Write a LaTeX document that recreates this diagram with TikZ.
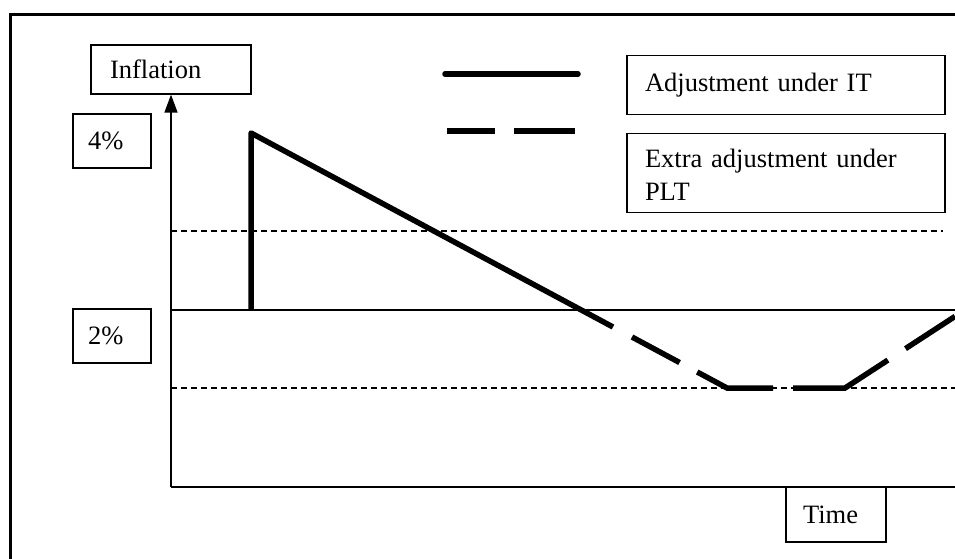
\documentclass[tikz,border=0pt]{standalone}
\usepackage{fontspec}
\setmainfont{Liberation Serif}
\usetikzlibrary{arrows.meta}
\begin{document}
\begin{tikzpicture}[x=1pt,y=-1pt,
  txtfont/.style={font=\fontsize{26.5}{33}\selectfont},
  lbl/.style={draw, line width=1.2pt, inner ysep=0pt, align=left, anchor=center, txtfont},
  boxonly/.style={draw, line width=1.2pt, inner sep=0pt, anchor=center},
  axisline/.style={line width=1.5pt},
  refline/.style={line width=1.5pt, dash pattern=on 6pt off 4pt},
  pathline/.style={line width=5.5pt}
]
\useasboundingbox (0,0) rectangle (955,558);
% outer frame (only left and top edges visible)
\coordinate (fbl) at (10,600);
\coordinate (ftl) at (10,14);
\coordinate (ftr) at (960,14);
\draw[line width=3pt] (fbl) -- (ftl) -- (ftr);

% label boxes
\node[lbl, minimum width=160pt, minimum height=49pt, text width=122pt, inner xsep=19pt] (infl) at (171,69.5) {Inflation};
\node[lbl, minimum width=78pt, minimum height=54pt, text width=48pt, inner xsep=15pt] (four) at (112,141) {4\%};
\node[lbl, minimum width=78pt, minimum height=54pt, text width=48pt, inner xsep=15pt] (two) at (112,336) {2\%};
\node[lbl, minimum width=318pt, minimum height=59pt, text width=282pt, inner xsep=18pt] (legit) at (786,85) {Adjustment under IT};
\node[boxonly, minimum width=318pt, minimum height=79pt] (pltbox) at (786,173) {};
\node[txtfont, align=left, inner sep=0pt, text width=282pt, anchor=center] (plttext) at ([yshift=-2pt]pltbox.center) {Extra adjustment under\\PLT};
\node[lbl, minimum width=100pt, minimum height=55pt, text width=66pt, inner xsep=17pt] (time) at (836,514.5) {Time};

% axes
\coordinate (O) at (171,487);
\coordinate (xend) at (955,487);
\draw[axisline, -{Triangle[length=18pt,width=13pt]}] (O) -- (infl.south);
\draw[axisline] (O) -- (xend);

% reference lines
\coordinate (t0) at (171,310);  \coordinate (t1) at (955,310);
\coordinate (u0) at (171,231);  \coordinate (u1) at (943,231);
\coordinate (l0) at (171,388);  \coordinate (l1) at (955,388);
\draw[line width=1.3pt] (t0) -- (t1);
\draw[refline] (u0) -- (u1);
\draw[refline] (l0) -- (l1);

% adjustment path
\coordinate (A) at (251,310);
\coordinate (B) at (251,133);
\coordinate (S1) at (613,327);
\coordinate (S2) at (632,337);
\coordinate (C) at (727,388);
\coordinate (D) at (845,388);
\coordinate (E) at (955,316.4);
\draw[pathline, line join=round] (A) -- (B) -- (S1);
\draw[pathline, dash pattern=on 54pt off 20pt on 80pt off 20pt on 103pt off 21pt on 100pt off 1pt] (S2) -- (C) -- (D) -- (E);

% legend lines
\coordinate (ls0) at (445,74);  \coordinate (ls1) at (578,74);
\coordinate (ld0) at (447,131); \coordinate (ld1) at (575,131);
\draw[pathline, line cap=round] (ls0) -- (ls1);
\draw[pathline, dash pattern=on 48pt off 19pt on 70pt] (ld0) -- (ld1);
\end{tikzpicture}
\end{document}
